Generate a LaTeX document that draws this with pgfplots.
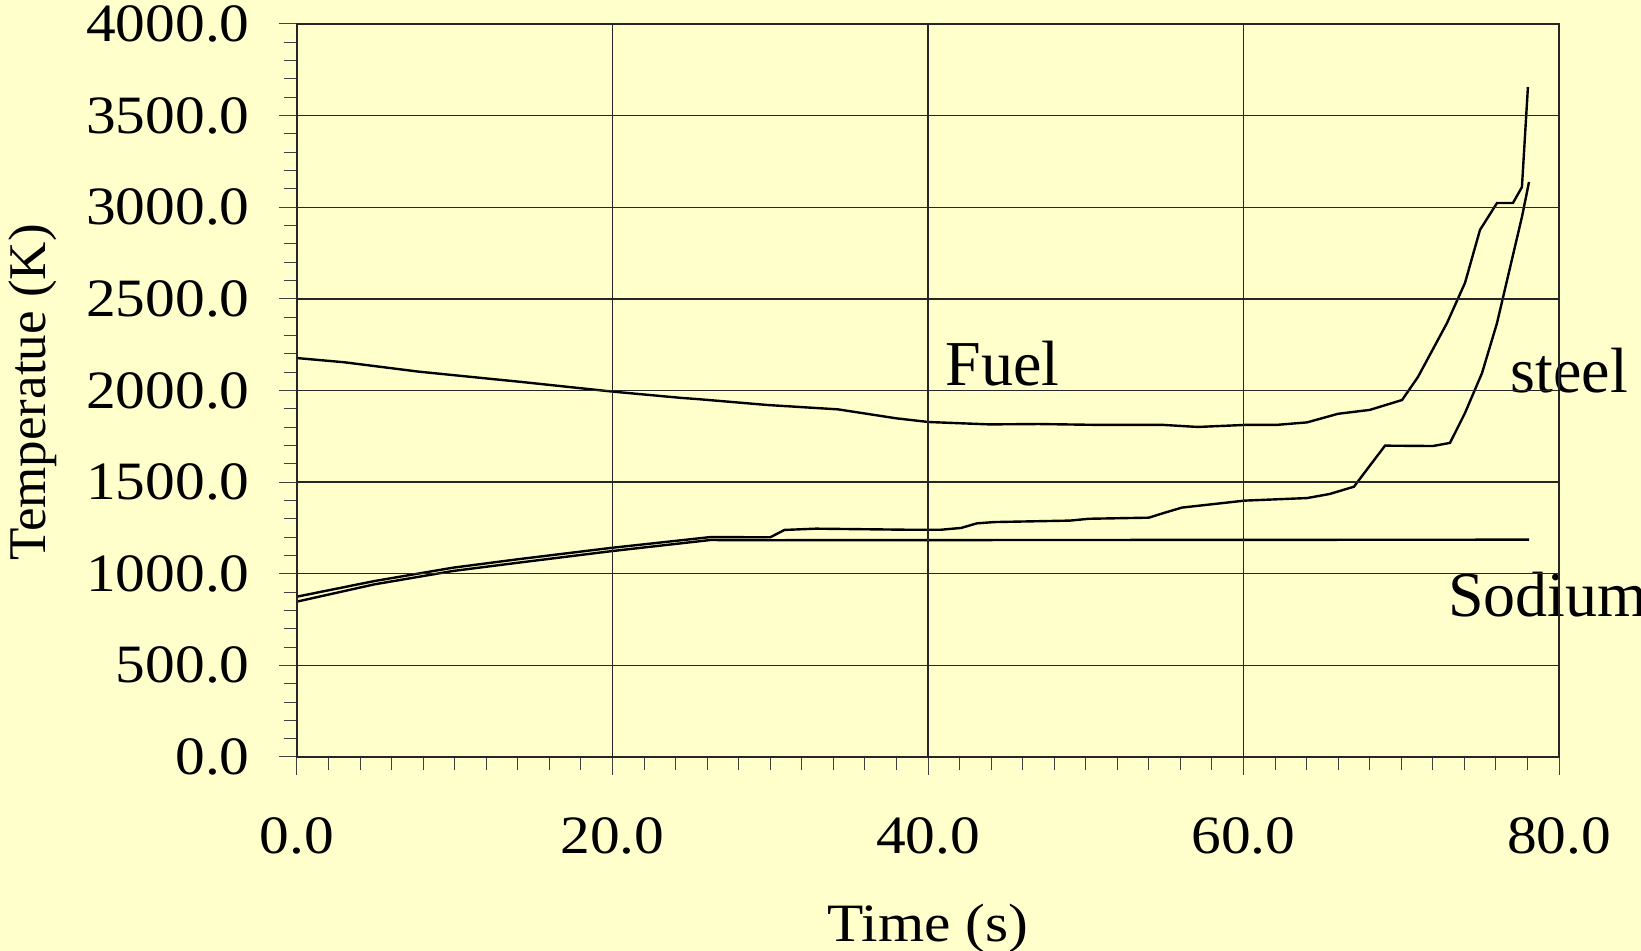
\documentclass[border=0pt]{standalone}
\usepackage{fontspec}
\setmainfont{Liberation Serif}
\newfontfamily\tickfont[FakeStretch=1.1]{Liberation Serif}
\usepackage{pgfplots}
\pgfplotsset{compat=1.18}
\definecolor{bgyellow}{RGB}{255,255,204}
\begin{document}
\begin{tikzpicture}
\fill[bgyellow] (-148.5pt,-97pt) rectangle (672pt,378.5pt);
\begin{axis}[
  scale only axis, width=631pt, height=366.5pt,
  at={(0pt,0pt)}, anchor=south west,
  xmin=0, xmax=80, ymin=0, ymax=4000,
  xtick distance=20, ytick distance=500,
  minor x tick num=9, minor y tick num=4,
  tick align=outside, xtick pos=bottom, ytick pos=left,
  major tick length=9pt, minor tick length=6.5pt,
  every tick/.style={black!75, line width=0.5pt},
  grid=major, major grid style={black!85, line width=0.7pt},
  axis line style={black!85, line width=0.6pt},
  axis on top, clip=false,
  tick label style={font=\fontsize{27}{30}\tickfont, inner sep=0pt},
  xticklabel style={yshift=-21pt},
  yticklabel style={xshift=-14.5pt},
  /pgf/number format/fixed, /pgf/number format/fixed zerofill,
  /pgf/number format/precision=1, /pgf/number format/1000 sep={},
  /pgf/number format/assume math mode=true,
  xlabel={Time (s)},
  xlabel style={at={(axis description cs:0.5,-0.25102)}, anchor=base, inner sep=0pt, font=\fontsize{27}{30}\tickfont},
  ylabel={Temperatue (K)},
  ylabel style={at={(axis description cs:-0.19968,0.4973)}, anchor=base, inner sep=0pt, font=\fontsize{26.5}{30}\selectfont},
]
\addplot[black, line width=1.2pt] coordinates {
(0,2177) (3,2154) (7.7,2103) (14.3,2046) (20,1994) (24.3,1960) (25.55,1952)
(29.8,1921) (34.3,1897) (38.0,1848) (40.04,1828) (43.9,1815) (47.0,1817)
(51.0,1812) (54.96,1812) (57.1,1801) (60.07,1812) (62.06,1812) (64.03,1826)
(66.0,1873) (68.0,1894) (70.05,1948) (71.06,2074) (72.90,2368) (74.04,2587)
(74.99,2876) (76.07,3023) (77.08,3023) (77.65,3110) (78.03,3656)
};
\addplot[black, line width=1.2pt] coordinates {
(0,875) (4.9,960) (9.88,1033) (14.0,1079) (20,1142) (26.2,1200) (30.0,1199)
(30.9,1239) (32.9,1246) (38.85,1240) (40.8,1240) (42.1,1250) (43.1,1275)
(44.2,1282) (49.0,1290) (50.2,1300) (54.0,1306) (55.0,1333) (56.1,1361)
(60.07,1399) (64.03,1413) (65.45,1435) (67.0,1475) (68.97,1699) (72.01,1697)
(73.09,1714) (74.04,1877) (75.12,2095) (76.07,2368) (77.65,2947) (78.10,3138)
};
\addplot[black, line width=1.2pt] coordinates {
(0,848) (4.9,942) (9.88,1015) (14.0,1060) (20,1124) (26.2,1184) (30,1183) (78.1,1186)
};
\draw[black, line width=1.4pt] (axis cs:0,4000) -- (axis cs:0,0) -- (axis cs:80,0);
\node[anchor=base west, inner sep=0pt, font=\fontsize{32}{36}\selectfont] at (axis cs:41.1,2025) {Fuel};
\node[anchor=base west, inner sep=0pt, font=\fontsize{32}{36}\selectfont] at (axis cs:76.9,1990) {steel};
\node[anchor=base west, inner sep=0pt, font=\fontsize{32}{36}\selectfont] at (axis cs:72.96,764) {Sodium};
\end{axis}
\pgfresetboundingbox
\path[use as bounding box] (-148.5pt,-97pt) rectangle (672pt,378.5pt);
\end{tikzpicture}
\end{document}
